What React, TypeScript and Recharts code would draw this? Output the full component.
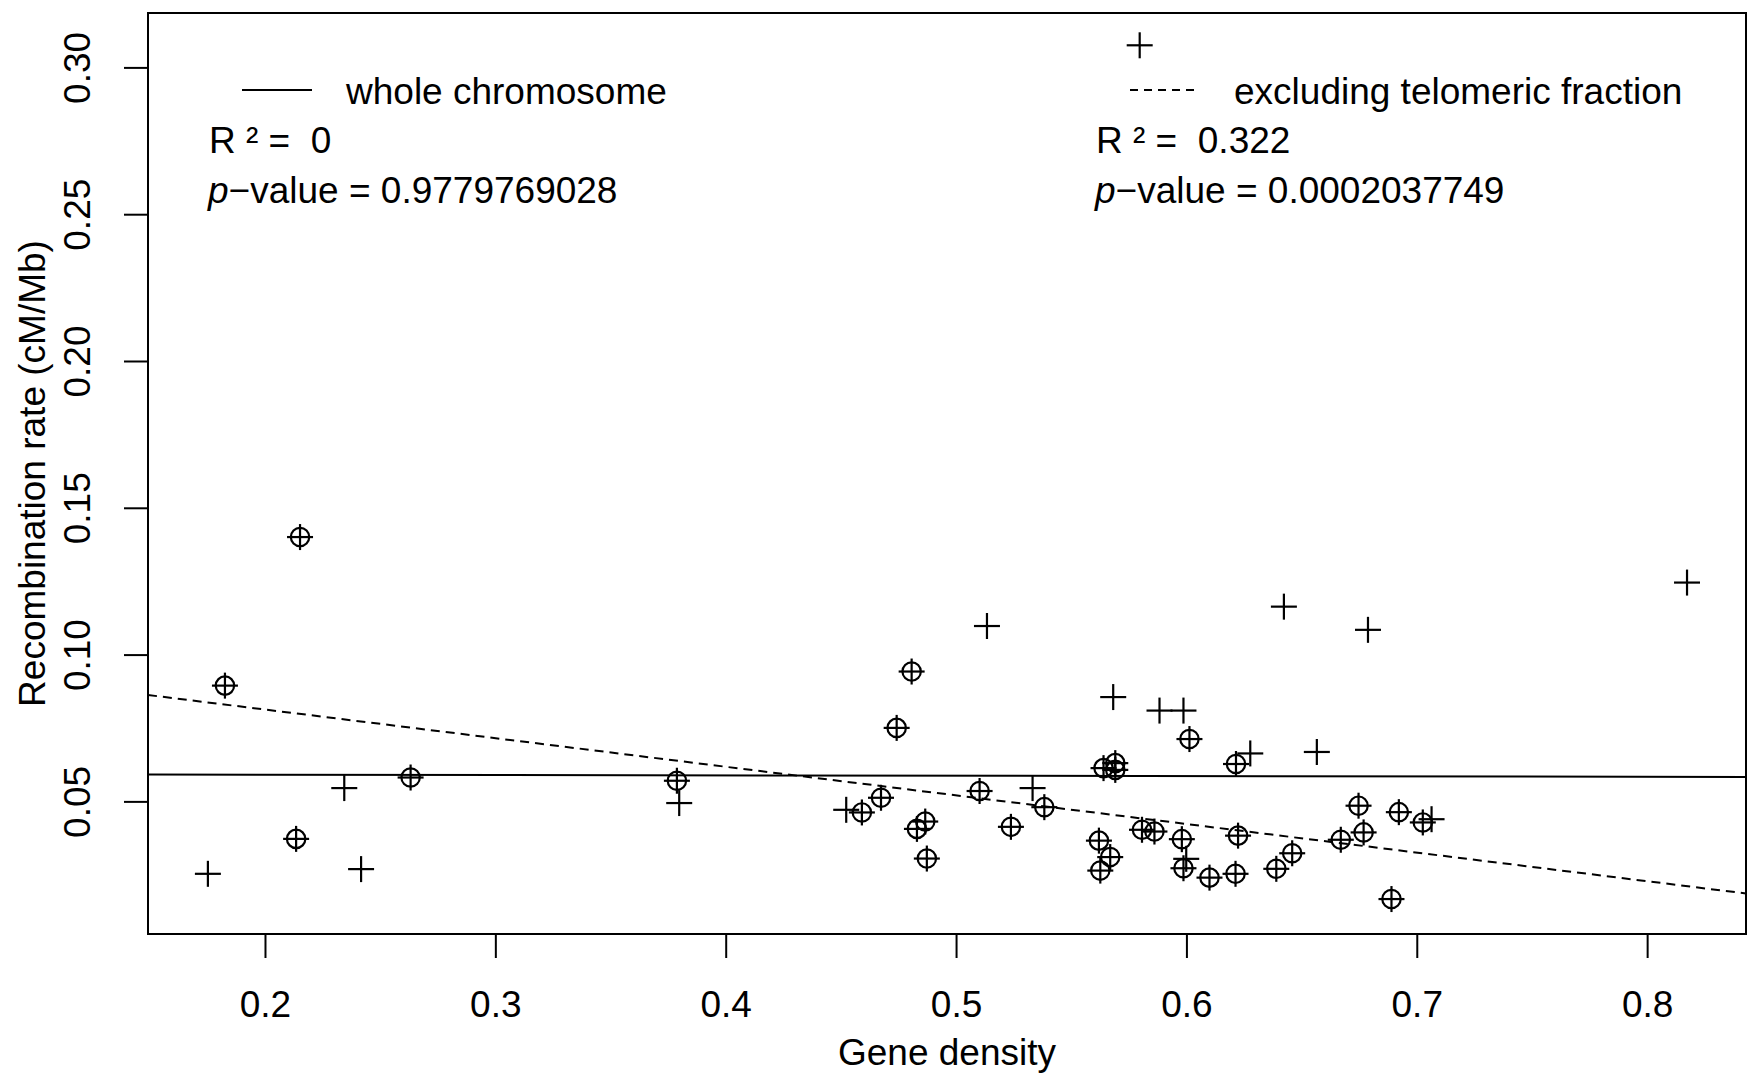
import React from 'react';
import { ScatterChart, Scatter, XAxis, YAxis, ReferenceLine, ReferenceArea } from 'recharts';

// Gene density vs recombination rate
const telomericX = [0.175, 0.2342, 0.2415, 0.3796, 0.4521, 0.5132, 0.533, 0.568, 0.5795, 0.5881, 0.5985, 0.5997, 0.6275, 0.6421, 0.6564, 0.6786, 0.7062, 0.8171];
const telomericY = [0.0255, 0.0547, 0.0271, 0.0496, 0.0473, 0.1099, 0.0547, 0.0857, 0.3077, 0.0811, 0.0811, 0.0306, 0.0665, 0.1165, 0.067, 0.1086, 0.0441, 0.1247];

const centralX = [0.1824, 0.2133, 0.215, 0.263, 0.3786, 0.4589, 0.4672, 0.474, 0.4805, 0.4828, 0.4864, 0.4871, 0.51, 0.5236, 0.5381, 0.5618, 0.5624, 0.5638, 0.5667, 0.5689, 0.5689, 0.5805, 0.5859, 0.5978, 0.5985, 0.6011, 0.6098, 0.6211, 0.6213, 0.6222, 0.6388, 0.6457, 0.6668, 0.6745, 0.6767, 0.6888, 0.692, 0.7024];
const centralY = [0.0896, 0.0374, 0.1402, 0.0583, 0.0572, 0.0464, 0.0514, 0.0752, 0.0944, 0.0408, 0.0433, 0.0307, 0.0537, 0.0415, 0.0482, 0.0368, 0.0266, 0.0615, 0.0312, 0.0632, 0.0609, 0.0405, 0.0399, 0.0373, 0.0274, 0.0714, 0.0242, 0.0255, 0.0629, 0.0385, 0.0272, 0.0325, 0.0371, 0.0487, 0.0396, 0.0169, 0.0465, 0.043];

// fitted lines, value at the left and right edge of the plot
const xDomain = [0.149, 0.8427];
const yDomain = [0.005, 0.3187];
const wholeFit = [0.0593, 0.0585];
const excludingFit = [0.0864, 0.0188];

const xTicks = [0.2, 0.3, 0.4, 0.5, 0.6, 0.7, 0.8];
const yTicks = [0.05, 0.1, 0.15, 0.2, 0.25, 0.3];

const FONT = '"Liberation Sans", Arial, Helvetica, sans-serif';
const FS = 37;

const telomeric = telomericX.map((x, i) => ({ x, y: telomericY[i] }));
const central = centralX.map((x, i) => ({ x, y: centralY[i] }));
const allPoints = [...telomeric, ...central];

const Cross = (props: any) => {
  const { cx, cy } = props;
  const s = 13;
  return (
    <g stroke="#000" strokeWidth={2.2}>
      <line x1={cx - s} y1={cy} x2={cx + s} y2={cy} />
      <line x1={cx} y1={cy - s} x2={cx} y2={cy + s} />
    </g>
  );
};

const Ring = (props: any) => {
  const { cx, cy } = props;
  return <circle cx={cx} cy={cy} r={9.2} fill="none" stroke="#000" strokeWidth={2.2} />;
};

const XTick = ({ x, y, payload }: any) => (
  <text x={x} y={y + 46} textAnchor="middle" dominantBaseline="central" fontSize={FS} fontFamily={FONT} fill="#000">
    {payload.value.toFixed(1)}
  </text>
);

const YTick = ({ x, y, payload }: any) => (
  <text
    x={x - 46}
    y={y}
    textAnchor="middle"
    dominantBaseline="central"
    fontSize={FS}
    fontFamily={FONT}
    fill="#000"
    transform={`rotate(-90, ${x - 46}, ${y})`}
  >
    {payload.value.toFixed(2)}
  </text>
);

const Legend = () => (
  <svg width={1754} height={240} style={{ position: 'absolute', left: 0, top: 0, pointerEvents: 'none' }}>
    <g fontFamily={FONT} fontSize={FS} fill="#000">
      <line x1={242} y1={90} x2={312} y2={90} stroke="#000" strokeWidth={2} />
      <text x={346} y={104}>whole chromosome</text>
      <text x={209} y={153} style={{ whiteSpace: 'pre' }}>{'R \u00b2 =  0'}</text>
      <text x={208} y={203}>
        <tspan fontStyle="italic">p</tspan>
        {'\u2212value = 0.9779769028'}
      </text>

      <line x1={1130} y1={90} x2={1199} y2={90} stroke="#000" strokeWidth={2} strokeDasharray="8 6" />
      <text x={1234} y={104}>excluding telomeric fraction</text>
      <text x={1096} y={153} style={{ whiteSpace: 'pre' }}>{'R \u00b2 =  0.322'}</text>
      <text x={1095} y={203}>
        <tspan fontStyle="italic">p</tspan>
        {'\u2212value = 0.0002037749'}
      </text>
    </g>
  </svg>
);

export default function App() {
  return (
    <div style={{ position: 'absolute', left: 0, top: 0, width: 1754, height: 1077, background: '#fff' }}>
      <ScatterChart width={1754} height={1077} margin={{ top: 13, right: 8, bottom: 0, left: 0 }}>
        <XAxis
          type="number"
          dataKey="x"
          domain={xDomain}
          allowDataOverflow
          ticks={xTicks}
          interval={0}
          axisLine={false}
          tickLine={{ stroke: '#000', strokeWidth: 2 }}
          tickSize={24}
          tickMargin={0}
          tick={<XTick />}
          height={143}
          label={{ value: 'Gene density', position: 'insideBottom', offset: 12, fontSize: FS, fontFamily: FONT, fill: '#000' }}
        />
        <YAxis
          type="number"
          dataKey="y"
          domain={yDomain}
          allowDataOverflow
          ticks={yTicks}
          interval={0}
          axisLine={false}
          tickLine={{ stroke: '#000', strokeWidth: 2 }}
          tickSize={24}
          tickMargin={0}
          tick={<YTick />}
          width={148}
          label={{ value: 'Recombination rate (cM/Mb)', angle: -90, position: 'insideLeft', offset: 32, fontSize: FS, fontFamily: FONT, fill: '#000', style: { textAnchor: 'middle' } }}
        />
        <ReferenceArea x1={xDomain[0]} x2={xDomain[1]} y1={yDomain[0]} y2={yDomain[1]} fill="none" fillOpacity={0} stroke="#000" strokeWidth={2} />
        <ReferenceLine
          segment={[{ x: xDomain[0], y: wholeFit[0] }, { x: xDomain[1], y: wholeFit[1] }]}
          stroke="#000"
          strokeWidth={2}
        />
        <ReferenceLine
          segment={[{ x: xDomain[0], y: excludingFit[0] }, { x: xDomain[1], y: excludingFit[1] }]}
          stroke="#000"
          strokeWidth={2}
          strokeDasharray="9 6"
        />
        <Scatter data={allPoints} shape={<Cross />} isAnimationActive={false} />
        <Scatter data={central} shape={<Ring />} isAnimationActive={false} />
      </ScatterChart>
      <Legend />
    </div>
  );
}
